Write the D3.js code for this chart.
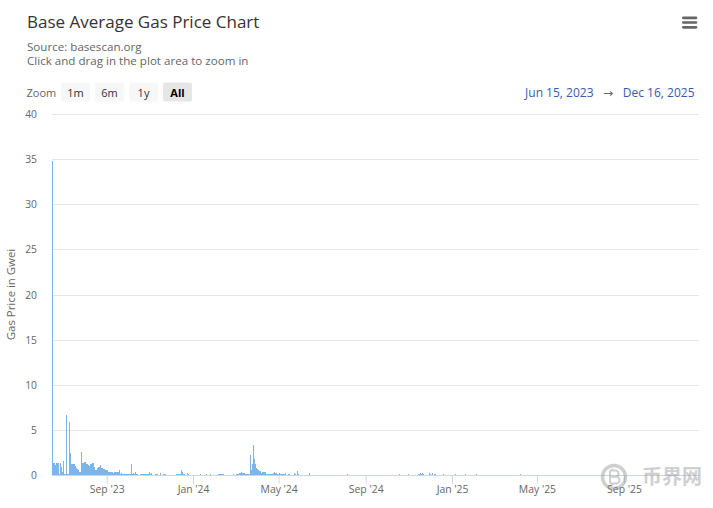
<!DOCTYPE html>
<html><head><meta charset="utf-8">
<script src="https://cdn.jsdelivr.net/npm/d3@7"></script>
<style>body{margin:0;background:#fff}svg{display:block;font-family:"Open Sans",sans-serif}</style>
</head><body><svg id="c" width="713" height="508"></svg>
<script>
// ---------- data ----------
const startDate = "2023-06-15";
const endDate = "2025-12-16";
// daily average gas price (Gwei) starting at startDate
const gasPrice = [
34.8,1.3,1.3,1.3,1.1,1.1,1.1,1.3,1.3,1.3,
0.15,0.15,1.3,0.2,0.9,0.3,1.6,0.1,0.1,0.1,
0.1,6.6,0.1,0.1,0.1,5.9,2.4,1.2,1.2,1.2,
1.2,1.2,1.2,1.0,0.8,0.65,0.65,0.55,0.5,0.35,
0.3,0.3,2.5,1.3,1.3,1.3,1.4,1.4,1.35,1.2,
1.2,1.1,1.0,1.0,1.1,1.2,1.2,1.3,1.3,0.9,
0.9,0.6,0.55,0.55,0.55,0.8,0.9,0.9,1.0,1.1,
0.8,0.75,0.7,0.7,0.7,0.5,0.5,0.5,0.5,0.4,
0.37,0.35,0.3,0.22,0.3,0.22,0.3,0.22,0.3,0.22,
0.3,0.3,0.22,0.3,0.3,0.3,0.52,0.15,0.22,0.15,
0.15,0.15,0.15,0.15,0.1,0.1,0.1,0.1,0.07,0.1,
0.1,0.07,0.1,1.2,0.15,0.22,0.07,0.07,0.37,0.07,
0.07,0.07,0.02,0.02,0.02,0.07,0.07,0.07,0.07,0.07,
0.07,0.07,0.07,0.07,0.07,0.07,0.07,0.07,0.3,0.15,
0.18,0.04,0.04,0.04,0.04,0.04,0.07,0.07,0.07,0.07,
0.02,0.02,0.02,0.22,0.07,0.02,0.02,0.02,0.07,0.07,
0.07,0.02,0.02,0.02,0.02,0.02,0.02,0.02,0.02,0.02,
0.02,0.02,0.02,0.02,0.02,0.02,0.07,0.07,0.07,0.07,
0.07,0.07,0.07,0.52,0.3,0.1,0.1,0.1,0.02,0.02,
0.02,0.22,0.02,0.07,0.02,0.02,0.02,0.02,0.02,0.02,
0.02,0.02,0.02,0.02,0.02,0.02,0.02,0.02,0.02,0.02,
0.07,0.02,0.02,0.02,0.02,0.02,0.02,0.02,0.07,0.02,
0.02,0.02,0.02,0.02,0.07,0.02,0.02,0.02,0.02,0.02,
0.02,0.02,0.02,0.02,0.02,0.07,0.07,0.07,0.07,0.07,
0.07,0.07,0.07,0.02,0.02,0.02,0.02,0.02,0.02,0.02,
0.02,0.02,0.02,0.02,0.02,0.02,0.07,0.02,0.02,0.02,
0.02,0.07,0.07,0.07,0.07,0.18,0.18,0.18,0.3,0.18,
0.18,0.18,0.18,0.07,0.07,0.07,0.07,0.07,0.07,0.07,
2.2,1.2,0.6,1.2,1.2,3.3,1.75,1.2,1.1,0.75,
0.7,0.5,0.5,0.4,0.18,0.4,0.18,0.3,0.3,0.3,
0.3,0.3,0.18,0.1,0.07,0.07,0.07,0.07,0.07,0.07,
0.1,0.1,0.1,0.18,0.3,0.18,0.18,0.18,0.1,0.1,
0.1,0.1,0.18,0.1,0.1,0.1,0.1,0.1,0.1,0.1,
0.22,0.02,0.02,0.02,0.1,0.1,0.1,0.02,0.02,0.02,
0.02,0.02,0.18,0.22,0.1,0.02,0.02,0.4,0.1,0.02,
0.02,0.02,0.02,0.02,0.02,0.02,0.02,0.02,0.02,0.02,
0.02,0.02,0.02,0.02,0.22,0.02,0.02,0.02,0.02,0.02,
0.02,0.02,0.02,0.02,0.02,0.02,0.02,0.02,0.02,0.02,
0.02,0.02,0.02,0.02,0.02,0.02,0.02,0.02,0.02,0.02,
0.02,0.02,0.02,0.02,0.02,0.02,0.02,0.02,0.02,0.02,
0.02,0.02,0.02,0.02,0.02,0.02,0.02,0.02,0.02,0.02,
0.02,0.02,0.02,0.02,0.02,0.02,0.02,0.1,0.02,0.02,
0.01,0.01,0.01,0.01,0.01,0.01,0.01,0.01,0.01,0.01,
0.01,0.01,0.01,0.01,0.01,0.01,0.01,0.01,0.01,0.01,
0.01,0.01,0.01,0.01,0.01,0.01,0.01,0.01,0.01,0.01,
0.01,0.01,0.01,0.01,0.01,0.01,0.01,0.01,0.01,0.01,
0.01,0.01,0.01,0.01,0.01,0.01,0.01,0.01,0.01,0.01,
0.01,0.01,0.01,0.01,0.01,0.01,0.01,0.01,0.01,0.01,
0.01,0.01,0.01,0.01,0.01,0.01,0.01,0.01,0.01,0.01,
0.01,0.1,0.01,0.01,0.01,0.01,0.01,0.01,0.01,0.01,
0.01,0.01,0.01,0.01,0.1,0.01,0.01,0.01,0.01,0.01,
0.01,0.01,0.01,0.01,0.01,0.01,0.01,0.01,0.1,0.1,
0.01,0.18,0.1,0.01,0.18,0.1,0.01,0.01,0.01,0.01,
0.01,0.01,0.01,0.18,0.01,0.1,0.01,0.18,0.1,0.01,
0.1,0.01,0.1,0.01,0.01,0.01,0.01,0.01,0.01,0.01,
0.01,0.01,0.01,0.1,0.01,0.01,0.01,0.01,0.01,0.01,
0.01,0.01,0.01,0.01,0.01,0.01,0.01,0.01,0.01,0.01,
0.1,0.01,0.01,0.01,0.01,0.01,0.01,0.01,0.01,0.01,
0.01,0.01,0.01,0.01,0.1,0.01,0.01,0.01,0.01,0.01,
0.01,0.01,0.01,0.01,0.01,0.01,0.01,0.01,0.01,0.01,
0.1,0.01,0.01,0.01,0.01,0.01,0.01,0.01,0.01,0.01,
0.01,0.01,0.01,0.01,0.01,0.01,0.01,0.01,0.01,0.01,
0.01,0.01,0.01,0.01,0.01,0.01,0.01,0.01,0.01,0.01,
0.01,0.01,0.01,0.01,0.01,0.01,0.01,0.01,0.01,0.01,
0.01,0.01,0.01,0.01,0.01,0.01,0.01,0.01,0.01,0.01,
0.01,0.01,0.01,0.01,0.01,0.01,0.01,0.01,0.01,0.01,
0.01,0.01,0.1,0.01,0.01,0.01,0.01,0.01,0.01,0.01,
0.01,0.01,0.01,0.01,0.01,0.01,0.01,0.01,0.01,0.01,
0.01,0.01,0.01,0.01,0.01,0.01,0.01,0.01,0.01,0.01,
0.01,0.01,0.01,0.01,0.01,0.01,0.01,0.01,0.01,0.01,
0.01,0.01,0.01,0.01,0.01,0.01,0.01,0.01,0.01,0.01,
0.01,0.01,0.01,0.01,0.01,0.01,0.01,0.01,0.01,0.01,
0.01,0.01,0.01,0.01,0.01,0.01,0.01,0.01,0.01,0.01,
0.01,0.01,0.01,0.01,0.01,0.01,0.01,0.01,0.01,0.01,
0.01,0.01,0.01,0.01,0.01,0.01,0.01,0.01,0.01,0.01,
0.01,0.01,0.01,0.01,0.01,0.01,0.01,0.01,0.01,0.01,
0.01,0.01,0.01,0.01,0.01,0.01,0.01,0.01,0.01,0.01,
0.01,0.01,0.01,0.01,0.01,0.01,0.01,0.01,0.01,0.01,
0.01,0.01,0.01,0.01,0.01,0.01,0.01,0.01,0.01,0.01,
0.01,0.01,0.01,0.01,0.01,0.01,0.01,0.01,0.01,0.01,
0.01,0.01,0.01,0.01,0.01,0.01,0.01,0.01,0.01,0.01,
0.01,0.01,0.01,0.01,0.01,0.01,0.01,0.01,0.01,0.01,
0.01,0.01,0.01,0.01,0.01,0.01,0.01,0.01,0.01,0.01,
0.01,0.01,0.01,0.01,0.01,0.01,0.01,0.01,0.01,0.01,
0.01,0.01,0.01,0.01,0.01,0.01,0.01,0.01,0.01,0.01,
0.01,0.01,0.01,0.01,0.01,0.01,0.01,0.01,0.01,0.01,
0.01,0.01,0.01,0.01,0.01,0.01
];
const yTicks = [0, 5, 10, 15, 20, 25, 30, 35, 40];
const xTickDates = ["2023-09-01", "2024-01-01", "2024-05-01", "2024-09-01", "2025-01-01", "2025-05-01", "2025-09-01"];
const xTickLabels = ["Sep '23", "Jan '24", "May '24", "Sep '24", "Jan '25", "May '25", "Sep '25"];
const zoomButtons = ["1m", "6m", "1y", "All"];
const selectedButton = "All";
const titleText = "Base Average Gas Price Chart";
const subtitleLines = ["Source: basescan.org", "Click and drag in the plot area to zoom in"];
const yAxisTitle = "Gas Price in Gwei";
const rangeFrom = "Jun 15, 2023";
const rangeTo = "Dec 16, 2025";
const watermarkText = "币界网";

// ---------- layout ----------
const svg = d3.select("#c");
const P = {left: 51.5, right: 699, top: 114, bottom: 475, gridL: 52};
const parse = d3.utcParse("%Y-%m-%d");
const t0 = parse(startDate), t1 = parse(endDate);
const x = d3.scaleUtc().domain([t0, t1]).range([P.left, P.right]);
const y = d3.scaleLinear().domain([0, 40]).rangeRound([P.bottom, P.top]);

// title / subtitle
svg.append("text").attr("x", 27).attr("y", 28.3).attr("fill", "#333")
  .style("font-size", "17px").text(titleText);
svg.append("g").selectAll("text").data(subtitleLines).join("text")
  .attr("x", 27).attr("y", (d, i) => 50.8 + i * 14.6).attr("fill", "#666")
  .style("font-size", "11.6px").text(d => d);

// menu icon
svg.append("g").selectAll("line").data([17.85, 22.5, 27.35]).join("line")
  .attr("x1", 683.3).attr("x2", 696).attr("y1", d => d).attr("y2", d => d)
  .attr("stroke", "#666").attr("stroke-width", 2.6).attr("stroke-linecap", "round");

// range selector
svg.append("text").attr("x", 26.5).attr("y", 96.7).attr("fill", "#666")
  .style("font-size", "11px").text("Zoom");
const bg = svg.append("g").selectAll("g").data(zoomButtons).join("g")
  .attr("transform", (d, i) => `translate(${61 + i * 34},82.5)`);
bg.append("rect").attr("width", 29).attr("height", 19).attr("rx", 2)
  .attr("fill", d => d === selectedButton ? "#e6e6e6" : "#f7f7f7");
bg.append("text").attr("x", 14.5).attr("y", 14.2).attr("text-anchor", "middle")
  .attr("fill", d => d === selectedButton ? "#000" : "#333")
  .style("font-size", "11px").style("font-weight", d => d === selectedButton ? "bold" : "normal")
  .text(d => d);

svg.append("text").attr("x", 593.5).attr("y", 96.7).attr("text-anchor", "end")
  .attr("fill", "#335cad").style("font-size", "12px").text(rangeFrom);
svg.append("text").attr("x", 608).attr("y", 96.7).attr("text-anchor", "middle")
  .attr("fill", "#666").style("font-family", '"DejaVu Sans",sans-serif')
  .style("font-size", "12px").text("\u2192");
svg.append("text").attr("x", 694.5).attr("y", 96.7).attr("text-anchor", "end")
  .attr("fill", "#335cad").style("font-size", "12px").text(rangeTo);

// y axis + grid
const yAxis = svg.append("g").attr("transform", `translate(${P.gridL},0)`)
  .call(d3.axisLeft(y).tickValues(yTicks).tickSize(-(P.right - P.gridL)).tickPadding(15));
yAxis.select(".domain").remove();
yAxis.selectAll(".tick line").attr("stroke", "#e6e6e6");
yAxis.selectAll(".tick text").attr("fill", "#666").style("font-size", "10.3px")
  .style("font-family", '"Open Sans",sans-serif');

svg.append("text").attr("transform", `translate(14.8,${(P.top + P.bottom) / 2}) rotate(-90)`)
  .attr("text-anchor", "middle").attr("fill", "#666").style("font-size", "11.4px").text(yAxisTitle);

// x axis
const xAxis = svg.append("g").attr("transform", `translate(0,${P.bottom})`)
  .call(d3.axisBottom(x).tickValues(xTickDates.map(parse))
    .tickFormat((d, i) => xTickLabels[i]).tickSize(8.5).tickSizeOuter(0).tickPadding(2.1));
xAxis.select(".domain").attr("stroke", "#ccd6eb").attr("d", `M${P.gridL},0.5H${P.right}`);
xAxis.selectAll(".tick line").attr("stroke", "#ccd6eb");
xAxis.selectAll(".tick text").attr("fill", "#666").style("font-size", "10.4px")
  .style("font-family", '"Open Sans",sans-serif');

// columns
const bars = gasPrice.map((v, i) => ({date: d3.utcDay.offset(t0, i), v}));
svg.append("g").attr("shape-rendering", "crispEdges").selectAll("rect")
  .data(bars.filter(d => y(d.v) < P.bottom)).join("rect")
  .attr("x", d => Math.round(x(d.date)))
  .attr("width", 1)
  .attr("y", d => y(d.v))
  .attr("height", d => P.bottom - y(d.v))
  .attr("fill", "#7cb5ec");

// watermark (source-site logo)
const wm = svg.append("g").attr("opacity", 0.4);
wm.append("circle").attr("cx", 614).attr("cy", 477).attr("r", 11.5)
  .attr("fill", "none").attr("stroke", "#888").attr("stroke-width", 3.5);
wm.append("path")
  .attr("d", "M610,470.5V483.5M610,470.5H615.5A3,3 0 0 1 615.5,476.8H610M610,476.8H616.2A3.3,3.3 0 0 1 616.2,483.5H610M612.5,468.5V470.5M612.5,483.5V485.5")
  .attr("fill", "none").attr("stroke", "#888").attr("stroke-width", 2);
wm.append("text").attr("x", 642).attr("y", 484).attr("fill", "#888")
  .style("font-family", '"Noto Sans CJK SC",sans-serif').style("font-size", "20px")
  .style("font-weight", "bold").text(watermarkText);
</script></body></html>
